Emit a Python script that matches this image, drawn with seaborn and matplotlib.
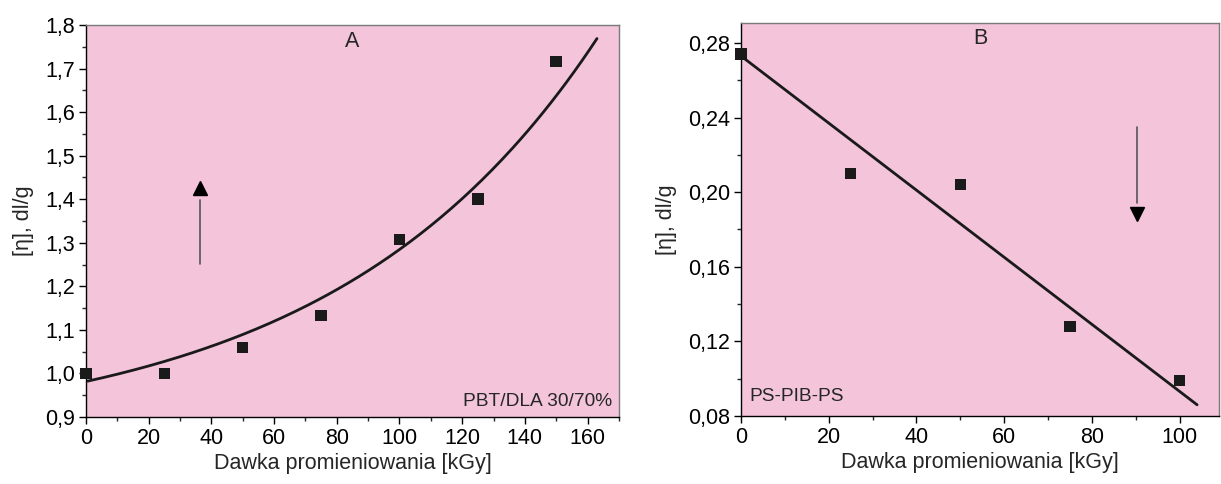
import matplotlib
matplotlib.use("Agg")
import matplotlib.pyplot as plt
import numpy as np
import pandas as pd
import seaborn as sns
from matplotlib.ticker import MultipleLocator, FuncFormatter

# --- data ---
dose_a = [0, 25, 50, 75, 100, 125, 150]
visc_a = [1.000, 1.000, 1.060, 1.133, 1.307, 1.400, 1.716]

# points on the drawn fit curve of panel A
curve_a_x = [0.5, 50, 75, 100, 125, 150, 163]
curve_a_y = [0.986, 1.082, 1.173, 1.287, 1.438, 1.635, 1.769]

dose_b = [0, 25, 50, 75, 100]
visc_b = [0.274, 0.210, 0.204, 0.128, 0.099]

# straight fit line of panel B, ends
line_b_x = [0, 104]
line_b_y = [0.273, 0.086]

x_label = "Dawka promieniowania [kGy]"
y_label = "[η], dl/g"

pink = "#f3c4da"

sns.set_theme(style="ticks")
plt.rcParams["font.family"] = ["Liberation Sans", "DejaVu Sans"]

fig = plt.figure(figsize=(12.21, 4.84), dpi=100)
ax_a = fig.add_axes([0.0704, 0.1384, 0.4365, 0.810])
ax_b = fig.add_axes([0.6069, 0.1405, 0.3915, 0.812])


def comma_fmt(decimals):
    return FuncFormatter(lambda v, pos: f"{v:.{decimals}f}".replace(".", ","))


def style_axes(ax, ydec):
    ax.set_facecolor(pink)
    for side in ["left", "bottom"]:
        ax.spines[side].set_color("black")
        ax.spines[side].set_linewidth(1.0)
    for side in ["top", "right"]:
        ax.spines[side].set_visible(True)
        ax.spines[side].set_color("#7a7a7a")
        ax.spines[side].set_linewidth(1.0)
    ax.tick_params(which="major", direction="out", length=5, width=1, labelsize=15.5,
                   colors="black", top=False, right=False, pad=3)
    ax.tick_params(which="minor", direction="out", length=3, width=1,
                   top=False, right=False)
    ax.yaxis.set_major_formatter(comma_fmt(ydec))
    ax.set_xlabel(x_label, fontsize=15.5, labelpad=3)
    ax.set_ylabel(y_label, fontsize=15.5, labelpad=8)


def exp_fit(x, y):
    # y = y0 + A*exp(x/t), least squares with a scan over t
    x = np.asarray(x, float)
    y = np.asarray(y, float)
    best = None
    for t in np.linspace(20, 400, 3801):
        M = np.column_stack([np.ones_like(x), np.exp(x / t)])
        c, *_ = np.linalg.lstsq(M, y, rcond=None)
        sse = np.sum((M @ c - y) ** 2)
        if best is None or sse < best[0]:
            best = (sse, t, c)
    _, t, c = best
    return lambda xx: c[0] + c[1] * np.exp(np.asarray(xx) / t)


# --- panel A ---
f_a = exp_fit(curve_a_x, curve_a_y)
xs_a = np.linspace(curve_a_x[0], curve_a_x[-1], 200)
fit_a = pd.DataFrame({"x": xs_a, "y": f_a(xs_a)})
sns.lineplot(data=fit_a, x="x", y="y", color="#1a1a1a", lw=2.0, ax=ax_a)
sns.scatterplot(x=dose_a, y=visc_a, marker="s", s=68, color="#1a1a1a",
                edgecolor="none", ax=ax_a, zorder=3, clip_on=False)
ax_a.set_xlim(0, 170)
ax_a.set_ylim(0.9, 1.8)
ax_a.xaxis.set_major_locator(MultipleLocator(20))
ax_a.xaxis.set_minor_locator(MultipleLocator(10))
ax_a.yaxis.set_major_locator(MultipleLocator(0.1))
ax_a.yaxis.set_minor_locator(MultipleLocator(0.05))
style_axes(ax_a, 1)
ax_a.text(85, 1.762, "A", fontsize=15.5, ha="center", va="center")
ax_a.text(167.8, 0.935, "PBT/DLA 30/70%", fontsize=13.8, ha="right", va="center")
ax_a.plot([36.4, 36.4], [1.252, 1.399], color="#555555", lw=1.2)
ax_a.plot([36.4], [1.425], marker="^", ms=10, color="black", ls="none")

# --- panel B ---
fit_b = pd.DataFrame({"x": line_b_x, "y": line_b_y})
sns.lineplot(data=fit_b, x="x", y="y", color="#1a1a1a", lw=2.0, ax=ax_b)
sns.scatterplot(x=dose_b, y=visc_b, marker="s", s=68, color="#1a1a1a",
                edgecolor="none", ax=ax_b, zorder=3, clip_on=False)
ax_b.set_xlim(0, 109)
ax_b.set_ylim(0.08, 0.2907)
ax_b.xaxis.set_major_locator(MultipleLocator(20))
ax_b.xaxis.set_minor_locator(MultipleLocator(10))
ax_b.yaxis.set_major_locator(MultipleLocator(0.04))
ax_b.yaxis.set_minor_locator(MultipleLocator(0.02))
style_axes(ax_b, 2)
ax_b.text(54.6, 0.2823, "B", fontsize=15.5, ha="center", va="center")
ax_b.text(2, 0.0902, "PS-PIB-PS", fontsize=13.8, ha="left", va="center")
ax_b.plot([90.4, 90.4], [0.1943, 0.2352], color="#555555", lw=1.2)
ax_b.plot([90.4], [0.1884], marker="v", ms=10, color="black", ls="none")

fig.savefig("out.png", dpi=100)
